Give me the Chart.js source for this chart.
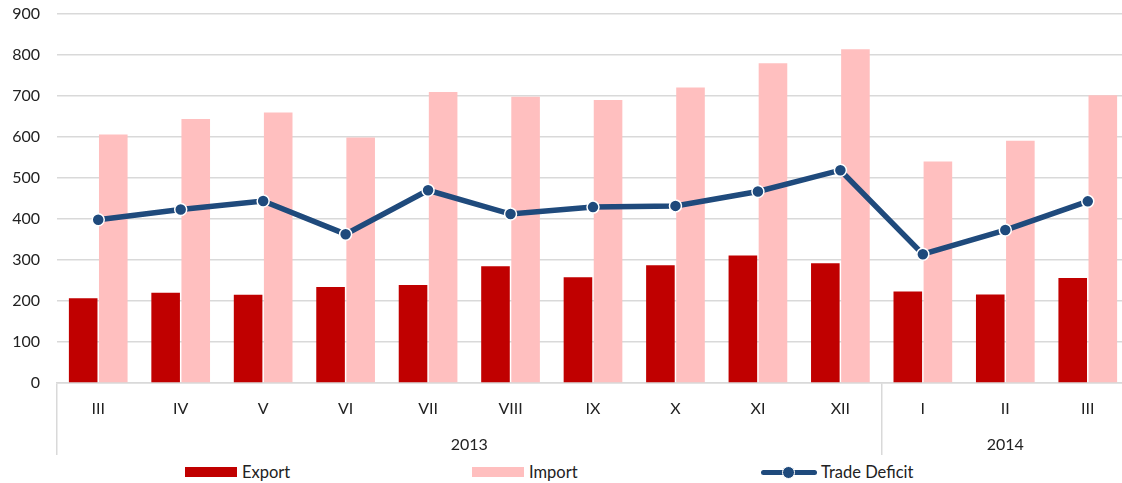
<!DOCTYPE html>
<html>
<head>
<meta charset="utf-8">
<script src="https://cdn.jsdelivr.net/npm/chart.js@4.4.1/dist/chart.umd.min.js"></script>
<style>
    body { margin: 0; background: #fff; overflow: hidden; font-family: Lato, "Noto Sans", sans-serif; }
    .wrap { position: relative; width: 1122px; height: 483px; overflow: hidden; }
    #graphique { position: absolute; left: 0; top: 0; }
    .legende .item { position: absolute; top: 461px; height: 22px; display: flex; align-items: center; font-size: 16.5px; color: #222; white-space: nowrap; }
    .legende .box { display: inline-block; width: 52px; height: 10px; margin-right: 5px; }
    .legende .ligne { position: relative; display: inline-block; width: 56px; height: 13px; margin-right: 4px; }
    .legende .ligne::before { content: ""; position: absolute; left: 0; right: 0; top: 4px; height: 5px; border-radius: 3px; background: var(--c); }
    .legende .ligne::after { content: ""; position: absolute; left: 21px; top: 0; width: 11px; height: 11px; border-radius: 50%; background: var(--c); border: 1px solid #fff; }
</style>
</head>
<body>
<div class="wrap">
    <canvas id="graphique" width="1129" height="455"></canvas>
    <div class="legende" id="legende"></div>
</div>
<script>
const mois = ["III", "IV", "V", "VI", "VII", "VIII", "IX", "X", "XI", "XII", "I", "II", "III"];
const annees = ["2013", "2014"];
const moisParAnnee = [10, 3];

const exportVals = [207, 220, 215, 234, 239, 285, 258, 287, 311, 292, 223, 216, 256];
const importVals = [606, 644, 660, 599, 710, 698, 690, 721, 780, 814, 540, 591, 702];
const deficitVals = [398, 423, 444, 363, 470, 412, 429, 432, 467, 519, 314, 373, 443];

const yTicks = [0, 100, 200, 300, 400, 500, 600, 700, 800, 900];

const couleurExport = "#C00000";
const couleurImport = "#FFBFBF";
const couleurDeficit = "#1F4A7C";
const couleurGrille = "#D9D9D9";
const couleurTexte = "#222222";

// positions des annees (centre et limites des groupes de mois)
const limites = [-0.5];
const centres = [];
let debut = 0;
for (let n of moisParAnnee) {
    centres.push(debut + (n - 1) / 2);
    debut += n;
    limites.push(debut - 0.5);
}

// pas de marge automatique autour des axes
const sansMarge = (scale) => {
    scale.paddingTop = 0;
    scale.paddingBottom = 0;
    scale.paddingLeft = 0;
    scale.paddingRight = 0;
};

Chart.defaults.font.family = "Lato, 'Noto Sans', sans-serif";
Chart.defaults.font.size = 16;
Chart.defaults.color = couleurTexte;

const data = {
    labels: mois,
    datasets: [
        {
            type: "line",
            label: "Trade Deficit",
            data: deficitVals,
            borderColor: couleurDeficit,
            backgroundColor: couleurDeficit,
            borderWidth: 5.5,
            pointRadius: 6,
            pointBackgroundColor: couleurDeficit,
            pointBorderColor: "#ffffff",
            pointBorderWidth: 1.5,
            tension: 0,
            order: 0,
            xAxisID: "x",
        },
        {
            type: "bar",
            label: "Export",
            data: exportVals,
            backgroundColor: couleurExport,
            categoryPercentage: 0.73,
            barPercentage: 0.95,
            order: 1,
            xAxisID: "x",
        },
        {
            type: "bar",
            label: "Import",
            data: importVals,
            backgroundColor: couleurImport,
            categoryPercentage: 0.73,
            barPercentage: 0.95,
            order: 1,
            xAxisID: "x",
        },
    ]
};

const config = {
    type: "bar",
    data: data,
    options: {
        responsive: false,
        animation: false,
        layout: { autoPadding: false, padding: { top: 14, right: 0, left: 0, bottom: 0 } },
        plugins: {
            legend: { display: false },
            tooltip: { enabled: false },
        },
        scales: {
            x: {
                type: "category",
                position: "bottom",
                offset: true,
                grid: {
                    offset: true,
                    drawOnChartArea: false,
                    drawTicks: true,
                    tickLength: 45,
                    lineWidth: 1.5,
                    color: (ctx) => {
                        const lims = limites.map(l => Math.round(l + 0.5));
                        return lims.includes(ctx.index) ? couleurGrille : "rgba(0,0,0,0)";
                    },
                },
                border: { display: true, color: couleurGrille, width: 1.5 },
                ticks: { autoSkip: false, maxRotation: 0, padding: -29 },
                afterFit: (scale) => { scale.height = 45; sansMarge(scale); },
            },
            annee: {
                type: "linear",
                position: "bottom",
                offset: false,
                min: -0.5,
                max: mois.length - 0.5,
                grid: {
                    offset: false,
                    drawOnChartArea: false,
                    drawTicks: true,
                    tickLength: 27,
                    lineWidth: 1.5,
                    color: (ctx) => (ctx.tick && limites.includes(ctx.tick.value)) ? couleurGrille : "rgba(0,0,0,0)",
                },
                border: { display: false },
                ticks: {
                    autoSkip: false,
                    maxRotation: 0,
                    padding: -20,
                    callback: (v) => {
                        const i = centres.indexOf(v);
                        return i >= 0 ? annees[i] : "";
                    },
                },
                afterBuildTicks: (scale) => {
                    scale.ticks = limites.concat(centres).sort((a, b) => a - b).map(v => ({ value: v }));
                },
                afterFit: (scale) => { scale.height = 27; sansMarge(scale); },
            },
            y: {
                min: 0,
                max: 900,
                grid: { color: couleurGrille, lineWidth: 1.5, drawTicks: false },
                border: { display: false },
                ticks: { padding: 17, stepSize: 100 },
                afterBuildTicks: (scale) => { scale.ticks = yTicks.map(v => ({ value: v })); },
                afterFit: (scale) => { scale.width = 57; sansMarge(scale); },
            },
        },
    },
};

const graph = new Chart(document.querySelector("#graphique"), config);

// legende en html
const legende = document.querySelector("#legende");
legende.innerHTML =
    `<div class="item" style="left:185px"><i class="box" style="background:${couleurExport}"></i>Export</div>` +
    `<div class="item" style="left:472px"><i class="box" style="background:${couleurImport}"></i>Import</div>` +
    `<div class="item" style="left:761px"><i class="ligne" style="--c:${couleurDeficit}"></i>Trade Deficit</div>`;
</script>
</body>
</html>
